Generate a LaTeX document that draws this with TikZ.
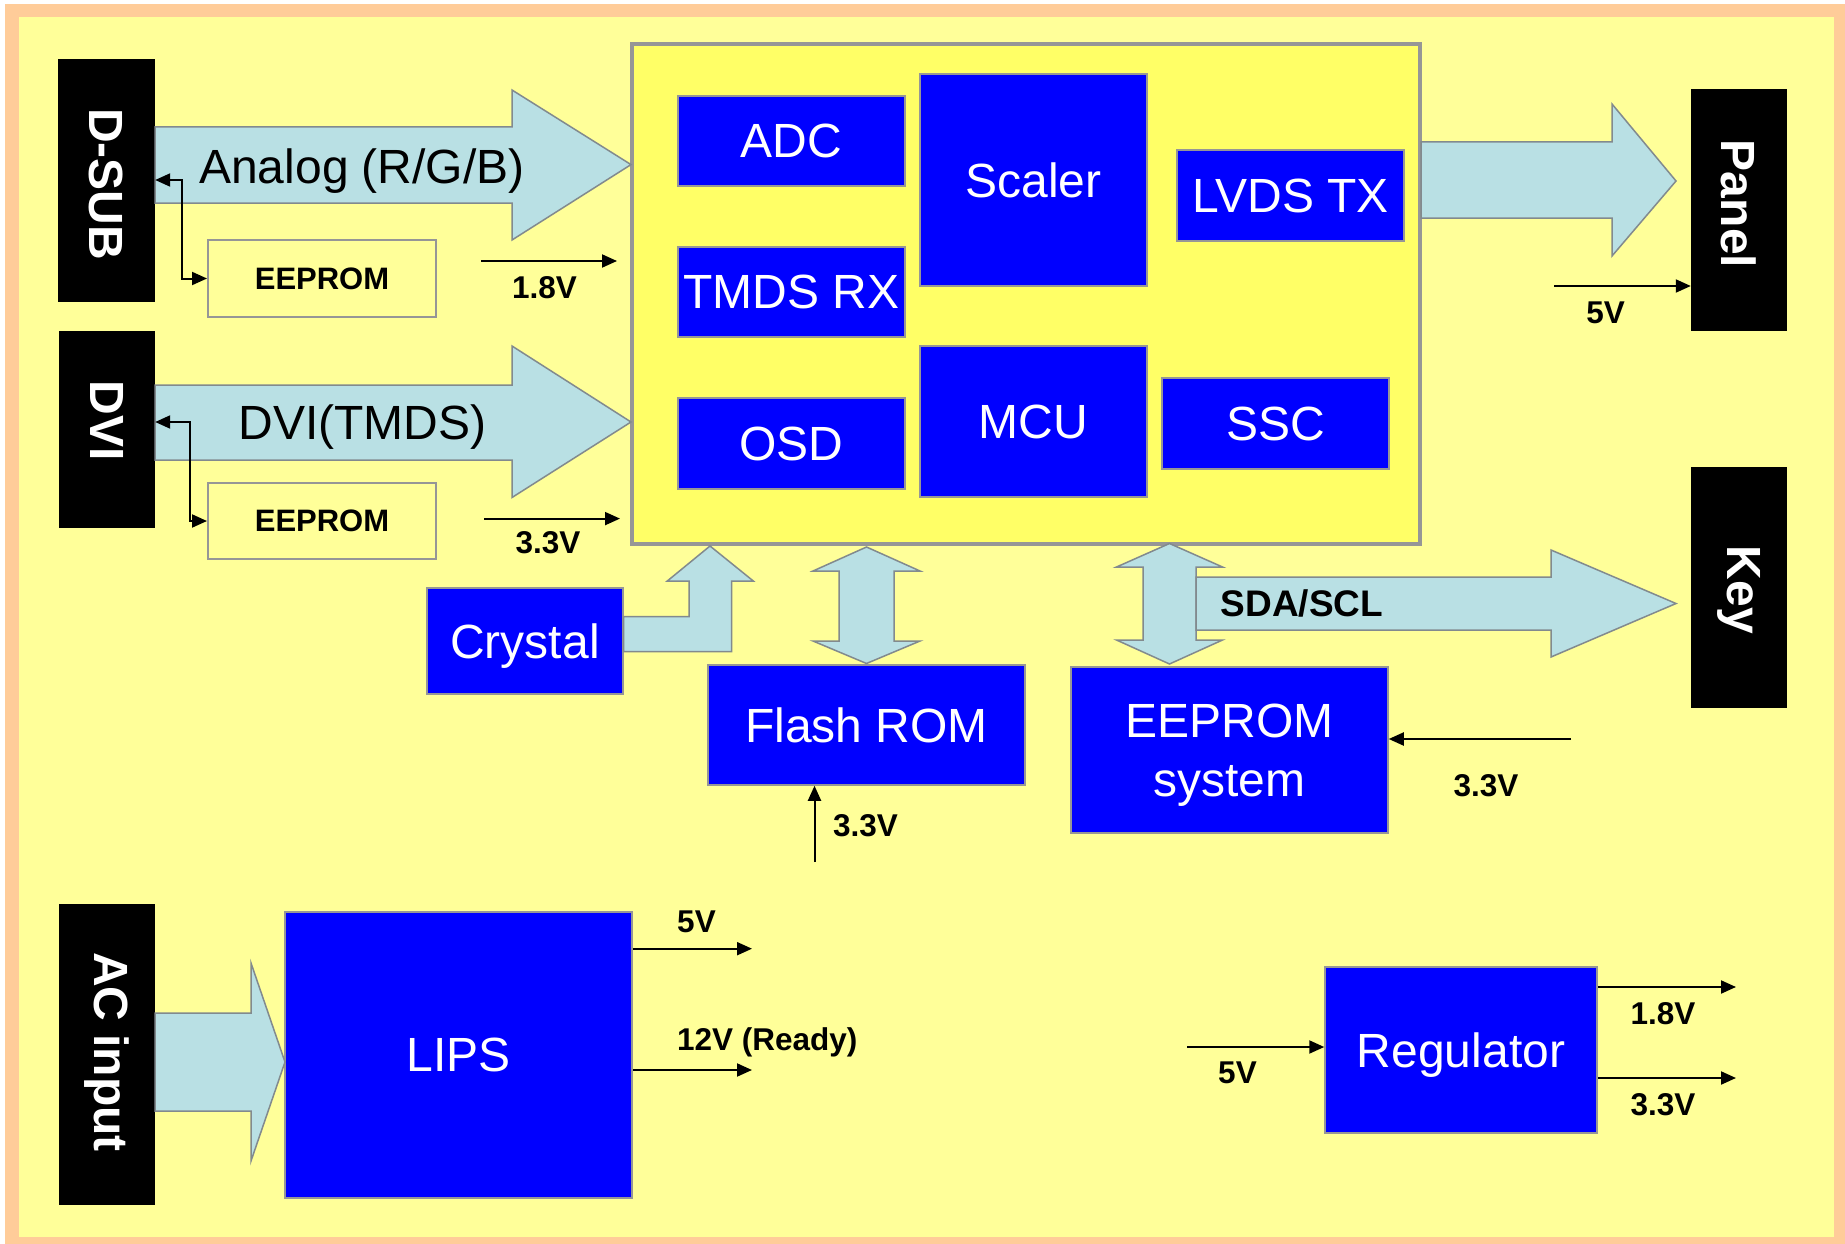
\documentclass[tikz,border=0pt]{standalone}
\usepackage{fontspec}
\setmainfont{Liberation Sans}
\usetikzlibrary{arrows.meta}
\definecolor{framebg}{HTML}{FFCC99}
\definecolor{paper}{HTML}{FFFF99}
\definecolor{chipbg}{HTML}{FFFF66}
\definecolor{chipblue}{HTML}{0000FF}
\definecolor{pipefill}{RGB}{185,224,228}
\definecolor{pipeedge}{RGB}{130,138,142}
\definecolor{boxedge}{RGB}{150,150,150}
\tikzset{
  blk/.style={draw=boxedge, line width=1.5pt, fill=chipblue, text=white,
    font=\fontsize{48}{59}\selectfont, inner sep=0pt, align=center},
  conn/.style={fill=black, text=white, font=\bfseries\fontsize{48}{54}\selectfont,
    inner sep=0pt, rotate=-90},
  eepbox/.style={draw=boxedge, line width=2pt, font=\bfseries\fontsize{31}{36}\selectfont,
    inner sep=0pt},
  lbl/.style={font=\bfseries\fontsize{31.5}{36}\selectfont, inner sep=0pt, anchor=base},
  pwr/.style={line width=2pt, -{Triangle[length=15pt,width=13pt]}},
  bi/.style={line width=2pt, {Triangle[length=15pt,width=13pt]}-{Triangle[length=15pt,width=13pt]}},
  pipe/.style={fill=pipefill, draw=pipeedge, line width=1.5pt, line join=miter},
}
\begin{document}
\begin{tikzpicture}[x=1pt,y=-1pt]
\useasboundingbox (0,0) rectangle (1845,1244);
\fill[white] (0,0) rectangle (1845,1244);
\fill[framebg] (5,4) rectangle (1845,1244);
\fill[paper] (18.5,17) rectangle (1834,1237);

% chip
\node[draw=boxedge, line width=4pt, fill=chipbg, minimum width=788pt, minimum height=500pt, inner sep=0pt] (chip) at (1026,294) {};

% inner blocks
\node[blk, minimum width=227pt, minimum height=90pt] (adc) at (791.5,141) {ADC};
\node[blk, minimum width=227pt, minimum height=90pt] (tmds) at (791.5,292) {TMDS RX};
\node[blk, minimum width=227pt, minimum height=91pt] (osd) at (791.5,443.5) {OSD};
\node[blk, minimum width=227pt, minimum height=212pt] (scaler) at (1033.5,180) {Scaler};
\node[blk, minimum width=227pt, minimum height=151pt] (mcu) at (1033.5,421.5) {MCU};
\node[blk, minimum width=227pt, minimum height=91pt] (lvds) at (1290.5,195.5) {LVDS TX};
\node[blk, minimum width=227pt, minimum height=91pt] (ssc) at (1275.5,423.5) {SSC};

% outside blocks
\node[blk, minimum width=196pt, minimum height=106pt, text depth=0pt] (crystal) at (525,641) {Crystal};
\node[blk, minimum width=317pt, minimum height=120pt] (flash) at (866.5,725) {Flash ROM};
\node[blk, minimum width=317pt, minimum height=166pt, text depth=0pt] (eepsys) at (1229.5,750) {EEPROM\\system};
\node[blk, minimum width=347pt, minimum height=286pt] (lips) at (458.5,1055) {LIPS};
\node[blk, minimum width=272pt, minimum height=166pt, text depth=0pt] (reg) at (1461,1050) {Regulator};

% connectors (black)
\node[conn, minimum width=243pt, minimum height=97pt] (dsub) at (106.5,180.5) {\hspace*{7pt}D-SUB};
\node[conn, minimum width=197pt, minimum height=96pt] (dvi) at (107,429.5) {DVI\hspace*{17pt}};
\node[conn, minimum width=301pt, minimum height=96pt] (ac) at (107,1054.5) {AC input\hspace*{5pt}};
\node[conn, minimum width=242pt, minimum height=96pt] (panel) at (1739,210) {Panel\hspace*{12pt}};
\node[conn, minimum width=241pt, minimum height=96pt] (key) at (1739,587.5) {\hspace*{5pt}Key};

% small eeproms
\node[eepbox, minimum width=228pt, minimum height=77pt] (eep1) at (322,278.5) {EEPROM};
\node[eepbox, minimum width=228pt, minimum height=76pt] (eep2) at (322,521) {EEPROM};

% block arrows
\draw[pipe] (155,127) -- (512,127) -- (512,90) -- (631,164.6) -- (512,240) -- (512,203) -- (155,203) -- cycle;
\draw[pipe] (155,385) -- (512,385) -- (512,346) -- (631,422) -- (512,497.5) -- (512,460) -- (155,460) -- cycle;
\draw[pipe] (1421,142) -- (1612,142) -- (1612,104) -- (1676,181) -- (1612,256) -- (1612,218) -- (1421,218) -- cycle;
\draw[pipe] (155,1013) -- (251,1013) -- (251,963) -- (285,1062) -- (251,1161) -- (251,1111) -- (155,1111) -- cycle;
\draw[pipe] (623.5,616.5) -- (689,616.5) -- (689,581) -- (667.3,581) -- (710,546) -- (753.3,581) -- (731.7,581) -- (731.7,651.7) -- (623.5,651.7) -- cycle;
\draw[pipe] (866.5,547) -- (920,571) -- (894,571) -- (894,641) -- (920,641) -- (866.5,663.5) -- (813,641) -- (839,641) -- (839,571) -- (813,571) -- cycle;
\draw[pipe] (1169.5,543.5) -- (1222.5,567) -- (1196,567) -- (1196,640) -- (1222.5,640) -- (1169.5,664) -- (1116.5,640) -- (1143,640) -- (1143,567) -- (1116.5,567) -- cycle;
\draw[pipe] (1196,577) -- (1551,577) -- (1551,550) -- (1676,603.5) -- (1551,657) -- (1551,630) -- (1196,630) -- cycle;

% block arrow texts
\node[font=\fontsize{48}{56}\selectfont, inner sep=0pt, anchor=base] (analogtxt) at (362,183.7) {Analog (R/G/B)};
\node[font=\fontsize{48}{56}\selectfont, inner sep=0pt, anchor=base] (dvitxt) at (362.5,439.3) {DVI(TMDS)};
\node[font=\bfseries\fontsize{37}{42}\selectfont, inner sep=0pt, anchor=base] (sdatxt) at (1302,616.7) {SDA/SCL};

% eeprom links
\draw[bi] (dsub.north |- 0,180) -| (181.5,278.5) -- (eep1.west);
\draw[bi] (dvi.north |- 0,422) -| (190,521) -- (eep2.west);

% power arrows
\coordinate (a18s) at (481,261);  \coordinate (a18e) at (617,261);
\coordinate (a33s) at (484,518.6); \coordinate (a33e) at (620,518.6);
\coordinate (p5s) at (1554,286);
\coordinate (es) at (1571,739);
\coordinate (fs) at (814.5,862);
\coordinate (l5e) at (752,948.7);
\coordinate (l12e) at (752,1070);
\coordinate (r5s) at (1187,1047);
\coordinate (r18e) at (1736,987);
\coordinate (r33e) at (1736,1078);

\draw[pwr] (a18s) -- (a18e);
\draw[pwr] (a33s) -- (a33e);
\draw[pwr] (p5s) -- (p5s -| panel.south);
\draw[pwr] (es) -- (es -| eepsys.east);
\draw[pwr] (fs) -- (fs |- flash.south);
\draw[pwr] (l5e -| lips.east) -- (l5e);
\draw[pwr] (l12e -| lips.east) -- (l12e);
\draw[pwr] (r5s) -- (r5s -| reg.west);
\draw[pwr] (r18e -| reg.east) -- (r18e);
\draw[pwr] (r33e -| reg.east) -- (r33e);

% voltage labels
\node[lbl] (v1) at (544.5,298.3) {1.8V};
\node[lbl] (v2) at (548,553) {3.3V};
\node[lbl] (v3) at (1605.5,323) {5V};
\node[lbl] (v4) at (1486,796) {3.3V};
\node[lbl] (v5) at (865.5,836.7) {3.3V};
\node[lbl] (v6) at (696.5,932) {5V};
\node[lbl, anchor=base west] (v7) at (677,1050) {12V (Ready)};
\node[lbl] (v8) at (1237.5,1083) {5V};
\node[lbl] (v9) at (1663,1024) {1.8V};
\node[lbl] (v10) at (1663,1115) {3.3V};
\end{tikzpicture}
\end{document}
